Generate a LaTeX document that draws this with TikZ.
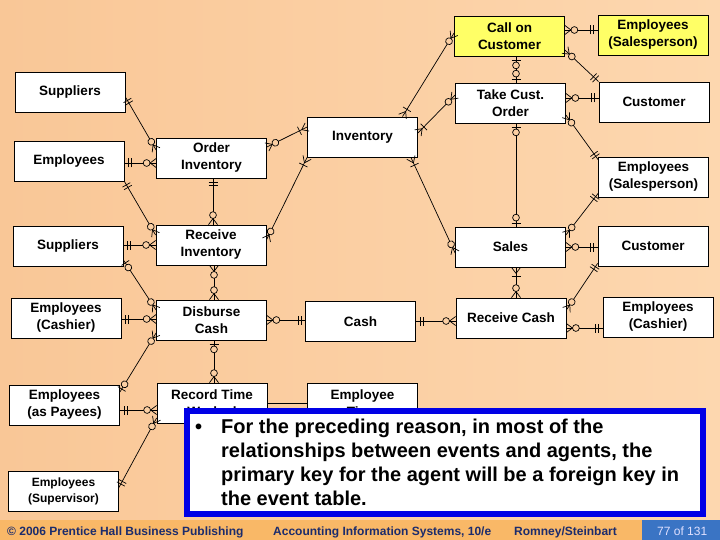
\documentclass[tikz,border=0pt]{standalone}
\usepackage{fontspec}
\setmainfont{Liberation Sans}
\usetikzlibrary{decorations.markings}

\definecolor{peachL}{HTML}{F9C797}
\definecolor{peachR}{HTML}{FDD7AF}
\definecolor{peach}{HTML}{FBCFA3}
\definecolor{callyel}{HTML}{FFFF66}
\definecolor{footorg}{HTML}{F9B867}
\definecolor{footblue}{HTML}{3A74C4}
\definecolor{footnavy}{HTML}{1C2C6C}
\definecolor{noteblue}{HTML}{0000E6}

% crow's foot pieces, drawn in the frame of a marking
\newcommand\erbar{\draw (0pt,-4.5pt) -- (0pt,4.5pt);}
\newcommand\ercirc{\draw[fill=peach] (0pt,0pt) circle (3.4pt);}
\newcommand\ercrow[1]{\draw (#1,0pt) -- (0pt,4.5pt) (#1,0pt) -- (0pt,-4.5pt);}

\tikzset{
  ent/.style={draw, fill=white, line width=0.8pt, minimum width=110pt, minimum height=40pt,
    inner sep=1pt, align=center, font=\fontsize{13.5}{17}\selectfont\bfseries},
  rel/.style={line width=0.7pt},
  endmk/.style={postaction={decorate, decoration={markings, #1}}},
  % s = start of the line, e = end of the line
  one s/.style={endmk={mark=at position 4pt with {\erbar}, mark=at position 7pt with {\erbar}}},
  one e/.style={endmk={mark=at position -4pt with {\erbar}, mark=at position -7pt with {\erbar}}},
  zone s/.style={endmk={mark=at position 3.5pt with {\erbar}, mark=at position 9pt with {\ercirc}}},
  zone e/.style={endmk={mark=at position -3.5pt with {\erbar}, mark=at position -9pt with {\ercirc}}},
  zmany s/.style={endmk={mark=at position 0.01pt with {\ercrow{6pt}}, mark=at position 9.5pt with {\ercirc}}},
  zmany e/.style={endmk={mark=at position -0.01pt with {\ercrow{-6pt}}, mark=at position -9.5pt with {\ercirc}}},
  omany s/.style={endmk={mark=at position 0.01pt with {\ercrow{6pt}}, mark=at position 8.5pt with {\erbar}}},
  omany e/.style={endmk={mark=at position -0.01pt with {\ercrow{-6pt}}, mark=at position -8.5pt with {\erbar}}},
}

\begin{document}
\begin{tikzpicture}[x=1pt, y=-1pt]
\useasboundingbox (0,0) rectangle (720,540);
\shade[left color=peachL, right color=peachR] (0,0) rectangle (720,520);

% entities
\foreach \n/\x/\y/\c/\t in {
  sup1/70/92/white/Suppliers, emp1/69/161/white/Employees,
  ordinv/211.5/158/white/{Order\\Inventory}, inv/362.5/137/white/Inventory,
  call/509.5/36/callyel/{Call on\\Customer}, empsp1/653/35/callyel/{Employees\\(Salesperson)},
  take/510.5/103/white/{Take Cust.\\Order}, cust1/654/102/white/Customer,
  empsp2/653.5/177/white/{Employees\\(Salesperson)},
  sup2/68/246.5/white/Suppliers, recinv/211/245/white/{Receive\\Inventory},
  sales/510.5/247/white/Sales, cust2/653/246/white/Customer,
  empcash1/66/318/white/{Employees\\(Cashier)}, disb/211.5/320/white/{Disburse\\Cash},
  cash/360.5/321.5/white/Cash, reccash/511/318/white/Receive Cash,
  empcash2/658/317/white/{Employees\\(Cashier)},
  payees/64.5/405/white/{Employees\\(as Payees)}, rtw/212/403/white/{Record Time\\Worked},
  emptime/362.5/403/white/{Employee\\Time}}
  \node[ent, fill=\c] (\n) at (\x,\y) {\t};
\node[ent, font=\fontsize{12}{16}\selectfont\bfseries] (superv) at (63.5,491.5) {Employees\\(Supervisor)};

% relationships
\draw[rel, one s, zmany e] ([yshift=-5pt]sup1.east) -- ([yshift=8pt]ordinv.west);
\draw[rel, one s, zmany e] ([yshift=-2pt]emp1.east) -- ([yshift=-5pt]ordinv.west);
\draw[rel, one s, zmany e] (emp1.south east) -- ([yshift=10pt]recinv.west);
\draw[rel, zmany s, omany e] ([yshift=11pt]ordinv.east) -- ([yshift=10pt]inv.west);
\draw[rel, one s, zmany e] ([xshift=1.5pt]ordinv.south) -- ([xshift=2pt]recinv.north);
\draw[rel, omany s, zmany e] (inv.south west) -- ([yshift=5pt]recinv.east);
\draw[rel, omany s, zmany e] ([xshift=-7pt]inv.south east) -- ([yshift=-6pt]sales.west);
\draw[rel, omany s, zmany e] ([yshift=4pt]inv.east) -- ([yshift=8pt]take.west);
\draw[rel, omany s, zmany e] ([xshift=40pt]inv.north) -- ([yshift=3pt]call.west);
\draw[rel, zmany s, one e] ([yshift=6pt]call.east) -- ([yshift=5pt]empsp1.west);
\draw[rel, zmany s, one e] ([yshift=-14pt]call.east) -- (cust1.north west);
\draw[rel, zone s, zone e] ([xshift=6.5pt]call.south) -- ([xshift=5.5pt]take.north);
\draw[rel, zmany s, one e] ([yshift=5pt]take.east) -- ([yshift=4pt]cust1.west);
\draw[rel, zmany s, one e] ([yshift=-12pt]take.east) -- ([yshift=-3pt]empsp2.north west);
\draw[rel, zone s, zone e] ([xshift=5.5pt]take.south) -- ([xshift=5.5pt]sales.north);
\draw[rel, zmany s, one e] (sales.east) -- ([yshift=-1pt]cust2.west);
\draw[rel, zmany s, one e] ([yshift=12pt]sales.east) -- ([yshift=4pt]empsp2.south west);
\draw[rel, omany s, zmany e] ([xshift=5.5pt]sales.south) -- ([xshift=5pt]reccash.north);
\draw[rel, one s, zmany e] ([yshift=3pt]cust2.south west) -- ([yshift=8pt]reccash.east);
\draw[rel, zmany s, one e] ([yshift=-10pt]reccash.east) -- ([yshift=-11pt]empcash2.west);
\draw[rel, one s, zmany e] ([yshift=0.5pt]cash.east) -- ([yshift=-3pt]reccash.west);
\draw[rel, zmany s, one e] (disb.east) -- ([yshift=1.5pt]cash.west);
\draw[rel, zmany s, zmany e] ([xshift=3pt]recinv.south) -- ([xshift=2.5pt]disb.north);
\draw[rel, one s, zmany e] ([yshift=1.5pt]sup2.east) -- (recinv.west);
\draw[rel, zone s, zmany e] ([yshift=-13.5pt]sup2.east) -- ([yshift=10pt]disb.west);
\draw[rel, one s, zmany e] ([yshift=-1pt]empcash1.east) -- ([yshift=1pt]disb.west);
\draw[rel, zmany s, zone e] ([yshift=-13pt]disb.west) -- ([yshift=13pt]payees.east);
\draw[rel, zone s, zmany e] ([xshift=2.5pt]disb.south) -- ([xshift=2pt]rtw.north);
\draw[rel, one s, zmany e] ([yshift=-5pt]payees.east) -- ([yshift=-7pt]rtw.west);
\draw[rel, one s, zmany e] ([yshift=4pt]superv.east) -- ([yshift=-15pt]rtw.west);
\draw[rel] (rtw.east) -- (emptime.west);

% callout
\node[draw=noteblue, line width=6pt, fill=white, minimum width=516pt, minimum height=103pt,
  inner sep=0pt] (note) at (445,462.5) {};
\node[anchor=base west, inner sep=0pt, font=\fontsize{20}{24}\selectfont\bfseries] (bullet) at (195,433) {•};
\node[anchor=north west, inner sep=0pt, align=left, font=\fontsize{20}{24}\selectfont\bfseries]
  (notetext) at (221,418.5) {For the preceding reason, in most of the\\relationships between events and agents, the\\primary key for the agent will be a foreign key in\\the event table.};

% footer
\fill[footorg] (0,520) rectangle (642,540);
\fill[footblue] (642,520) rectangle (720,540);
\begin{scope}[every node/.style={anchor=base west, inner sep=0pt, text=footnavy,
    font=\fontsize{12}{14}\selectfont\bfseries}]
  \node (copy) at (7,535) {© 2006 Prentice Hall Business Publishing};
  \node (book) at (273,535) {Accounting Information Systems, 10/e};
  \node (auth) at (514,535) {Romney/Steinbart};
  \node[text=white!88!blue, font=\fontsize{12}{14}\selectfont] (page) at (657,535) {77 of 131};
\end{scope}
\end{tikzpicture}
\end{document}
